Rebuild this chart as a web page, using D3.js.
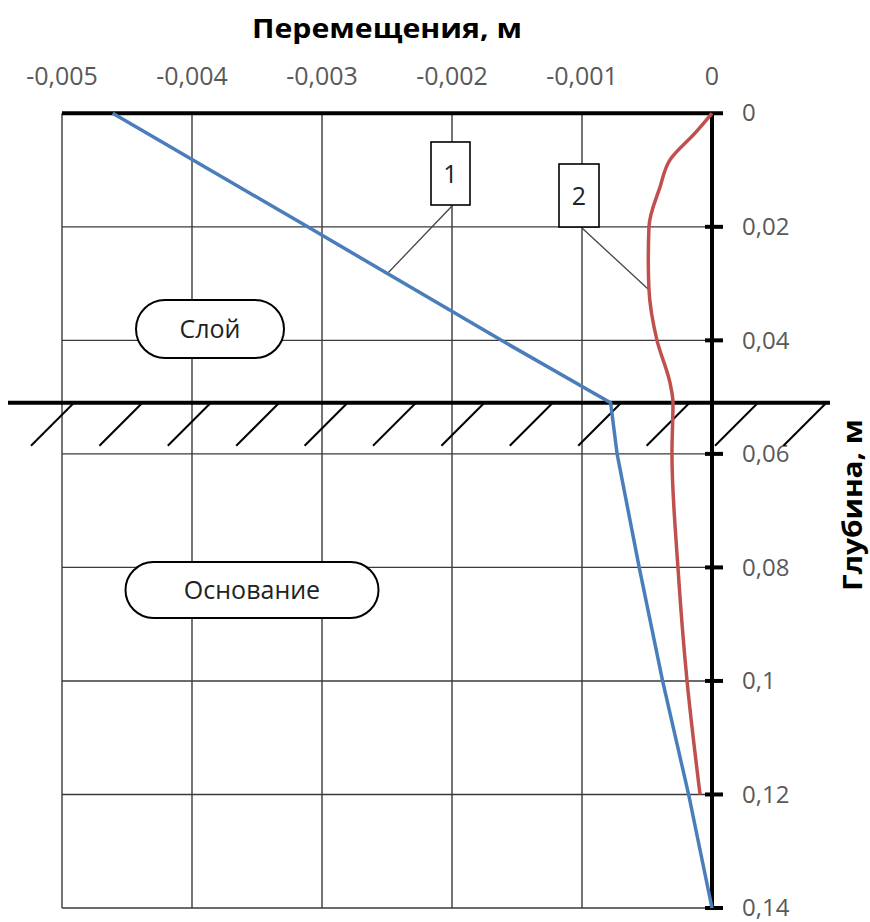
<!DOCTYPE html>
<html>
<head>
<meta charset="utf-8">
<script src="https://cdn.jsdelivr.net/npm/d3@7"></script>
<style>
  html, body { margin: 0; padding: 0; background: #fff; }
  svg { display: block; }
  text { font-family: "Open Sans", "DejaVu Sans", sans-serif; }
</style>
</head>
<body>
<svg id="chart" width="870" height="922"></svg>
<script>
// Horizontal displacement axis (top)
const xTicks = [-0.005, -0.004, -0.003, -0.002, -0.001, 0];
const xTickLabels = ["-0,005", "-0,004", "-0,003", "-0,002", "-0,001", "0"];

// Depth axis (right)
const depthTicks = [0, 0.02, 0.04, 0.06, 0.08, 0.1, 0.12, 0.14];
const depthTickLabels = ["0", "0,02", "0,04", "0,06", "0,08", "0,1", "0,12", "0,14"];

// Curve 1: displacement vs depth
const depth1 = [0, 0.02, 0.04, 0.051, 0.06, 0.08, 0.10, 0.12, 0.14];
const disp1  = [-0.00461, -0.00311, -0.00162, -0.00078, -0.00073, -0.00056, -0.00038, -0.00018, 0];

// Curve 2: displacement vs depth
const depth2 = [0, 0.0035, 0.0082, 0.013, 0.02, 0.026, 0.031, 0.04, 0.0475, 0.051, 0.06, 0.08, 0.10, 0.12];
const disp2  = [0, -0.000131, -0.000323, -0.0004, -0.000485, -0.00049, -0.000485, -0.000423, -0.000323, -0.0003, -0.000308, -0.000262, -0.000192, -0.000092];

// Layer / base boundary depth
const boundaryDepth = 0.051;

const svg = d3.select("#chart");
const x = d3.scaleLinear().domain([-0.005, 0]).range([62, 712]);
const y = d3.scaleLinear().domain([0, 0.14]).range([113.3, 908]);

const gridColor = "#3a3a3a";

// Grid: vertical lines
svg.append("g").selectAll("line")
  .data(xTicks.filter(d => d !== 0))
  .join("line")
  .attr("x1", d => x(d)).attr("x2", d => x(d))
  .attr("y1", y(0)).attr("y2", y(0.14))
  .attr("stroke", gridColor).attr("stroke-width", 1.4);

// Grid: horizontal lines
svg.append("g").selectAll("line")
  .data(depthTicks.filter(d => d !== 0))
  .join("line")
  .attr("x1", x(-0.005)).attr("x2", x(0))
  .attr("y1", d => y(d)).attr("y2", d => y(d))
  .attr("stroke", gridColor).attr("stroke-width", 1.4);

// Top axis line
svg.append("line")
  .attr("x1", x(-0.005)).attr("x2", x(0) + 11)
  .attr("y1", y(0)).attr("y2", y(0))
  .attr("stroke", "#000").attr("stroke-width", 4);

// Right axis line and tick marks
svg.append("line")
  .attr("x1", x(0)).attr("x2", x(0))
  .attr("y1", y(0)).attr("y2", y(0.14))
  .attr("stroke", "#000").attr("stroke-width", 4);

svg.append("g").selectAll("line")
  .data(depthTicks.filter(d => d !== 0))
  .join("line")
  .attr("x1", x(0) - 7).attr("x2", x(0) + 11)
  .attr("y1", d => y(d)).attr("y2", d => y(d))
  .attr("stroke", "#000").attr("stroke-width", 4);

// Top tick labels
svg.append("g").selectAll("text")
  .data(xTicks)
  .join("text")
  .attr("x", d => x(d))
  .attr("y", 85)
  .attr("text-anchor", "middle")
  .attr("font-size", 25)
  .attr("fill", "#595959")
  .text((d, i) => xTickLabels[i]);

// Right tick labels
svg.append("g").selectAll("text")
  .data(depthTicks)
  .join("text")
  .attr("x", x(0) + 30)
  .attr("y", d => y(d))
  .attr("dy", "0.34em")
  .attr("font-size", 24)
  .attr("fill", "#595959")
  .text((d, i) => depthTickLabels[i]);

// Axis titles
svg.append("text")
  .attr("x", 387).attr("y", 38)
  .attr("text-anchor", "middle")
  .attr("font-size", 27).attr("font-weight", "bold")
  .attr("textLength", 270).attr("lengthAdjust", "spacingAndGlyphs")
  .text("Перемещения, м");

svg.append("text")
  .attr("transform", "translate(862,505) rotate(-90)")
  .attr("text-anchor", "middle")
  .attr("font-size", 27).attr("font-weight", "bold")
  .attr("textLength", 172).attr("lengthAdjust", "spacingAndGlyphs")
  .text("Глубина, м");

// Rounded region labels
function pill(cx, cy, w, h, label) {
  const g = svg.append("g");
  g.append("rect")
    .attr("x", cx - w / 2).attr("y", cy - h / 2)
    .attr("width", w).attr("height", h)
    .attr("rx", h / 2).attr("ry", h / 2)
    .attr("fill", "#fff").attr("stroke", "#000").attr("stroke-width", 2);
  g.append("text")
    .attr("x", cx).attr("y", cy).attr("dy", "0.36em")
    .attr("text-anchor", "middle")
    .attr("font-size", 25).attr("fill", "#222")
    .text(label);
}
pill(210, 329, 148, 58, "Слой");
pill(252, 590, 253, 56, "Основание");

// Boundary between layer and base, with hatching
const yb = y(boundaryDepth);
const hatch = svg.append("g").attr("stroke", "#000").attr("stroke-width", 2);
d3.range(12).forEach(i => {
  const bx = 31 + i * 68.4;
  hatch.append("line")
    .attr("x1", bx).attr("y1", yb + 43)
    .attr("x2", bx + 43).attr("y2", yb);
});
svg.append("line")
  .attr("x1", 8).attr("x2", 830)
  .attr("y1", yb).attr("y2", yb)
  .attr("stroke", "#000").attr("stroke-width", 4);

// Curve labels with leader lines
function callout(bx, by, w, h, sx, sy, tx, ty, label) {
  svg.append("line")
    .attr("x1", sx).attr("y1", sy).attr("x2", tx).attr("y2", ty)
    .attr("stroke", "#444").attr("stroke-width", 1.3);
  svg.append("rect")
    .attr("x", bx).attr("y", by).attr("width", w).attr("height", h)
    .attr("fill", "#fff").attr("stroke", "#000").attr("stroke-width", 1.6);
  svg.append("text")
    .attr("x", bx + w / 2).attr("y", by + h / 2).attr("dy", "0.36em")
    .attr("text-anchor", "middle")
    .attr("font-size", 25).attr("fill", "#222")
    .text(label);
}
callout(431, 142, 39, 63, x(-0.002), 206, x(-0.0025), y(0.0283), "1");
callout(559, 164, 40, 63, x(-0.001), 228, x(-0.00049), y(0.031), "2");

// Curves
const pts1 = depth1.map((d, i) => [disp1[i], d]);
const pts2 = depth2.map((d, i) => [disp2[i], d]);

svg.append("path")
  .attr("d", d3.line().x(p => x(p[0])).y(p => y(p[1])).curve(d3.curveMonotoneY)(pts2))
  .attr("fill", "none").attr("stroke", "#C0504D").attr("stroke-width", 3.5);

svg.append("path")
  .attr("d", d3.line().x(p => x(p[0])).y(p => y(p[1]))(pts1))
  .attr("fill", "none").attr("stroke", "#4A7EBB").attr("stroke-width", 3.5)
  .attr("stroke-linejoin", "round");
</script>
</body>
</html>
